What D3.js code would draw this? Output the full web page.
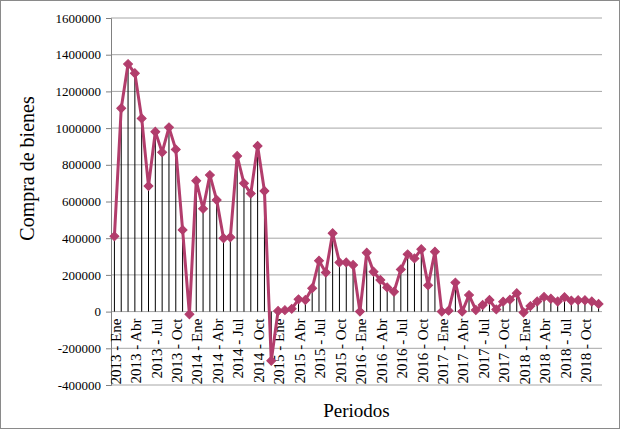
<!DOCTYPE html>
<html>
<head>
<meta charset="utf-8">
<script src="https://cdn.jsdelivr.net/npm/d3@7"></script>
<style>
  body { margin: 0; background: #fff; }
  svg { display: block; font-family: 'Liberation Serif', 'Times New Roman', serif; }
</style>
</head>
<body>
<div class="container"><svg></svg></div>
<script>
const years = [2013, 2014, 2015, 2016, 2017, 2018]
const months = ['Ene', 'Feb', 'Mar', 'Abr', 'May', 'Jun', 'Jul', 'Ago', 'Sep', 'Oct', 'Nov', 'Dic']
const labelMonths = ['Ene', 'Abr', 'Jul', 'Oct']
const periods = years.flatMap((y) => months.map((m) => `${y} - ${m}`))

// compra de bienes, enero 2013 - diciembre 2018
const compras = [
  410000, 1108000, 1349000, 1299000, 1053000, 684000, 980000, 868000, 1004000, 884000, 445000, -15000,
  713000, 560000, 744000, 608000, 400000, 405000, 848000, 699000, 643000, 903000, 657000, -268000,
  3000, 8000, 15000, 67000, 63000, 127000, 277000, 213000, 427000, 268000, 268000, 254000,
  0, 321000, 217000, 172000, 132000, 108000, 230000, 312000, 290000, 340000, 143000, 326000,
  0, 5000, 158000, 0, 90000, 9000, 36000, 63000, 12000, 54000, 65000, 100000,
  -5000, 30000, 55000, 80000, 70000, 55000, 78000, 60000, 62000, 62000, 55000, 42000
]

const yTicks = [-400000, -200000, 0, 200000, 400000, 600000, 800000, 1000000, 1200000, 1400000, 1600000]

const W = 620, H = 429
const plot = { left: 111, right: 602, top: 18, bottom: 385 }
const lineColor = '#b23d6c'
const serif = 'Liberation Serif'

const svg = d3.select('svg').attr('width', W).attr('height', H)

svg.append('rect')
  .attr('x', 0.5).attr('y', 0.5)
  .attr('width', W - 1).attr('height', H - 1)
  .attr('fill', '#fff').attr('stroke', '#8a8a8a')

const xScale = d3.scaleBand().domain(periods).range([plot.left, plot.right])
const cx = (p) => xScale(p) + xScale.bandwidth() / 2

const yScale = d3.scaleLinear()
  .domain([yTicks[0], yTicks[yTicks.length - 1]])
  .range([plot.bottom, plot.top])

// gridlines
svg.append('g')
  .selectAll('line')
  .data(yTicks)
  .enter()
  .append('line')
  .attr('x1', plot.left).attr('x2', plot.right)
  .attr('y1', (d) => yScale(d)).attr('y2', (d) => yScale(d))
  .attr('stroke', '#a6a6a6')
  .attr('stroke-width', 1)

// y axis
const yAxis = d3.axisLeft(yScale).tickValues(yTicks).tickSize(5).tickPadding(5).tickFormat((d) => d)
const gy = svg.append('g')
  .attr('transform', `translate(${plot.left},0)`)
  .call(yAxis)
  .attr('font-family', serif)
  .attr('font-size', 13)
gy.select('.domain').attr('stroke', '#808080')
gy.selectAll('.tick line').attr('stroke', '#808080')
gy.selectAll('text').attr('fill', '#000')

// category labels, every third month
const tickPeriods = periods.filter((p) => labelMonths.includes(p.split(' - ')[1]))
svg.append('g')
  .selectAll('text')
  .data(tickPeriods)
  .enter()
  .append('text')
  .attr('transform', (d) => `translate(${cx(d) + 1},${yScale(0) + 7}) rotate(-90)`)
  .attr('text-anchor', 'end')
  .attr('dy', '0.35em')
  .attr('font-size', 15)
  .attr('fill', '#000')
  .text((d) => d)

// drop lines
svg.append('g')
  .selectAll('line')
  .data(periods)
  .enter()
  .append('line')
  .attr('x1', (d) => cx(d)).attr('x2', (d) => cx(d))
  .attr('y1', yScale(0))
  .attr('y2', (d, i) => yScale(compras[i]))
  .attr('stroke', '#000')
  .attr('stroke-width', 1)

const line = d3.line()
  .x((d, i) => cx(periods[i]))
  .y((d) => yScale(d))

svg.append('path')
  .datum(compras)
  .attr('d', line)
  .attr('fill', 'none')
  .attr('stroke', lineColor)
  .attr('stroke-width', 3)
  .attr('stroke-linejoin', 'round')

const diamond = d3.symbol().type(d3.symbolSquare).size(40)
svg.append('g')
  .selectAll('path')
  .data(compras)
  .enter()
  .append('path')
  .attr('d', diamond)
  .attr('transform', (d, i) => `translate(${cx(periods[i])},${yScale(d)}) rotate(45)`)
  .attr('fill', lineColor)
  .attr('stroke', lineColor)
  .attr('stroke-width', 1)

// axis titles
svg.append('text')
  .attr('transform', `translate(34,${(plot.top + plot.bottom) / 2 - 33}) rotate(-90)`)
  .attr('text-anchor', 'middle')
  .attr('font-size', 20)
  .text('Compra de bienes')

svg.append('text')
  .attr('x', (plot.left + plot.right) / 2)
  .attr('y', 417)
  .attr('text-anchor', 'middle')
  .attr('font-size', 19)
  .text('Periodos')
</script>
</body>
</html>
